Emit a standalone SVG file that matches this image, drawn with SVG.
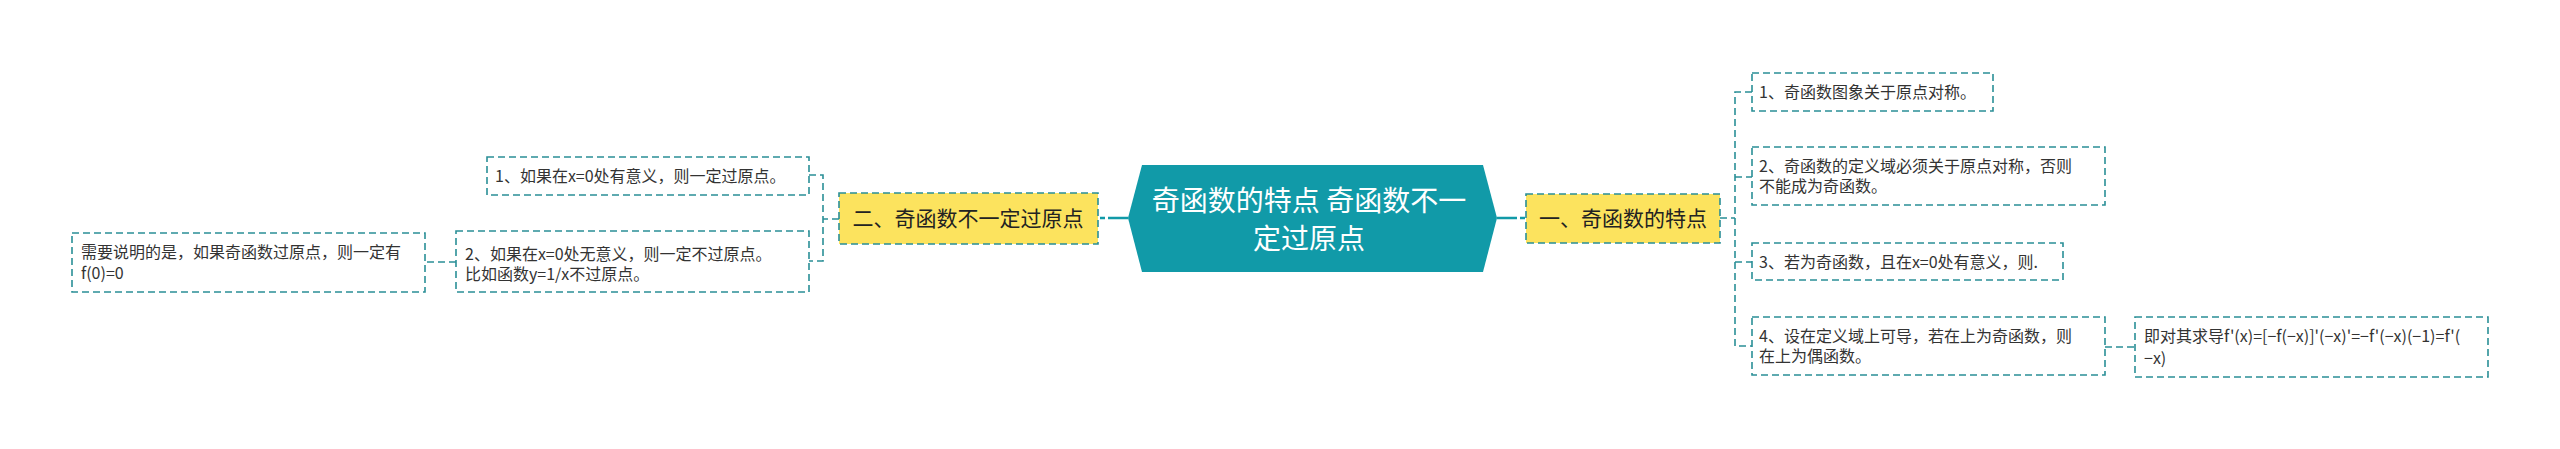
<svg xmlns="http://www.w3.org/2000/svg" width="2560" height="449" viewBox="0 0 2560 449">
<style>
.bg{fill:#ffffff}
.box{fill:#ffffff;stroke:#2a8f97;stroke-width:1.6;stroke-dasharray:7 4}
.ybox{fill:#fce35e;stroke:#2a8f97;stroke-width:1.6;stroke-dasharray:7 4}
.conn{fill:none;stroke:#2a8f97;stroke-width:1.6;stroke-dasharray:7 4}
.main{fill:none;stroke:#119aa8;stroke-width:2.5;stroke-dasharray:20 3 5 100}
.t{font-family:"Noto Sans CJK SC","Noto Sans",sans-serif;font-size:16px;fill:#333333}
.t1{font-family:"Noto Sans CJK SC","Noto Sans",sans-serif;font-size:21px;fill:#222222}
.t0{font-family:"Noto Sans CJK SC","Noto Sans",sans-serif;font-size:28px;fill:#ffffff}
</style>
<rect class="bg" x="0" y="0" width="2560" height="449"/>
<g id="connectors">
<path class="main" d="M1497,218 H1526"/>
<path class="main" d="M1128,218 H1098"/>
<path class="conn" d="M1720,218 H1735"/>
<path class="conn" d="M1752,92 H1735 V346 H1752"/>
<path class="conn" d="M1735,177 H1752"/>
<path class="conn" d="M1735,262 H1752"/>
<path class="conn" d="M2105,347 H2135"/>
<path class="conn" d="M839,219 H823"/>
<path class="conn" d="M809,175 H823 V261 H809"/>
<path class="conn" d="M456,262 H425"/>
</g>
<g id="root">
<polygon points="1142,165 1483,165 1497,218 1483,272 1142,272 1128,218" fill="#119aa8"/>
<text class="t0" x="1309" y="211" text-anchor="middle">奇函数的特点 奇函数不一</text>
<text class="t0" x="1309" y="249" text-anchor="middle">定过原点</text>
</g>
<g id="n1">
<rect class="ybox" x="1526" y="194" width="194" height="49"/>
<text class="t1" x="1623" y="226" text-anchor="middle">一、奇函数的特点</text>
</g>
<g id="n1-1">
<rect class="box" x="1752" y="73" width="241" height="38"/>
<text class="t" x="1759" y="98">1、奇函数图象关于原点对称。</text>
</g>
<g id="n1-2">
<rect class="box" x="1752" y="147" width="353" height="58"/>
<text class="t" x="1759" y="172">2、奇函数的定义域必须关于原点对称，否则</text>
<text class="t" x="1759" y="192">不能成为奇函数。</text>
</g>
<g id="n1-3">
<rect class="box" x="1752" y="243" width="311" height="37"/>
<text class="t" x="1759" y="268">3、若为奇函数，且在x=0处有意义，则.</text>
</g>
<g id="n1-4">
<rect class="box" x="1752" y="317" width="353" height="58"/>
<text class="t" x="1759" y="342">4、设在定义域上可导，若在上为奇函数，则</text>
<text class="t" x="1759" y="362">在上为偶函数。</text>
</g>
<g id="n1-4-1">
<rect class="box" x="2135" y="317" width="353" height="60"/>
<text class="t" x="2144" y="342">即对其求导f'(x)=[−f(−x)]'(−x)'=−f'(−x)(−1)=f'(</text>
<text class="t" x="2144" y="364">−x)</text>
</g>
<g id="n2">
<rect class="ybox" x="839" y="193" width="259" height="51"/>
<text class="t1" x="968" y="226" text-anchor="middle">二、奇函数不一定过原点</text>
</g>
<g id="n2-1">
<rect class="box" x="487" y="157" width="322" height="38"/>
<text class="t" x="495" y="182">1、如果在x=0处有意义，则一定过原点。</text>
</g>
<g id="n2-2">
<rect class="box" x="456" y="231" width="353" height="61"/>
<text class="t" x="465" y="260">2、如果在x=0处无意义，则一定不过原点。</text>
<text class="t" x="465" y="280">比如函数y=1/x不过原点。</text>
</g>
<g id="n2-2-1">
<rect class="box" x="72" y="233" width="353" height="59"/>
<text class="t" x="81" y="258">需要说明的是，如果奇函数过原点，则一定有</text>
<text class="t" x="81" y="279">f(0)=0</text>
</g>
</svg>
